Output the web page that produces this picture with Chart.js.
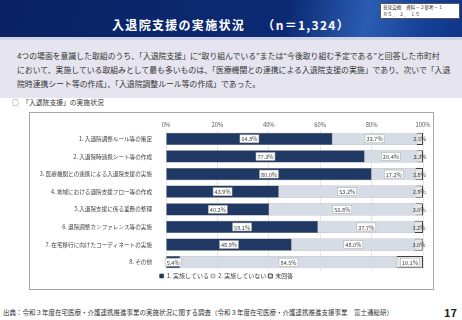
<!DOCTYPE html>
<html>
<head>
<meta charset="utf-8">
<script src="https://cdn.jsdelivr.net/npm/chart.js@4"></script>
<style>
  body { margin: 0; width: 462px; height: 320px; position: relative; overflow: hidden; background: #fff;
         font-family: "Noto Sans CJK JP", "Noto Sans", sans-serif; color: #333; }
  .head { position: absolute; left: 0; top: 0; width: 462px; height: 37px;
          background: linear-gradient(100deg, #0a2263 0%, #0c2a74 62%, #2a5db2 79%, #153f97 92%, #0f3588 100%); }
  .title { position: absolute; left: 0; width: 462px; top: 16px; text-align: center; color: #fff;
           font-size: 12px; font-weight: bold; letter-spacing: 1.3px; }
  .tag { position: absolute; left: 380px; top: 3px; width: 76px; height: 14px; background: #fff;
         border: 1px solid #555; font-size: 4.6px; line-height: 6.5px; padding-left: 2px; color: #333; }
  .strip { position: absolute; left: 0; top: 37px; width: 462px; height: 3px; background: #cfd3e6; }
  .lead { position: absolute; left: 0; top: 40px; width: 462px; height: 58px; background: #e5e4ef; }
  .lead p { margin: 0; position: absolute; left: 17px; top: 9px; font-size: 7.85px; line-height: 14px; color: #333; white-space: nowrap; }
  .sub { position: absolute; left: 12px; top: 97px; font-size: 6.8px; color: #333; }
  .frame { position: absolute; left: 29px; top: 112px; width: 403px; height: 176px; border: 1px solid #a6a6a6; }
  .frame canvas { position: absolute; left: 0; top: 0; }
  .src { position: absolute; left: 3px; top: 307px; font-size: 6.5px; color: #333; white-space: nowrap; }
  .page { position: absolute; left: 444px; top: 304px; font-size: 11px; font-weight: bold; color: #222; }
</style>
</head>
<body>
<div class="head"></div>
<div class="title">入退院支援の実施状況　 （n＝1,324）</div>
<div class="tag">意見交換　資料－３参考－１<br>Ｒ５．　３．　１５</div>
<div class="strip"></div>
<div class="lead"><p>4つの場面を意識した取組のうち、「入退院支援」に“取り組んでいる”または“今後取り組む予定である”と回答した市町村<br>において、実施している取組みとして最も多いものは、「医療機関との連携による入退院支援の実施」であり、次いで「入退<br>院時連携シート等の作成」、「入退院調整ルール等の作成」であった。</p></div>
<div class="sub">○　「入退院支援」の実施状況</div>
<div class="frame"><canvas id="chart" width="403" height="176"></canvas></div>
<div class="src">出典：令和３年度在宅医療・介護連携推進事業の実施状況に関する調査（令和３年度在宅医療・介護連携推進支援事業　富士通総研）</div>
<div class="page">17</div>

<script>
// --- DATA ---
const categories = [
  "1. 入退院調整ルール等の策定",
  "2. 入退院時連携シート等の作成",
  "3. 医療機関との連携による入退院支援の実施",
  "4. 地域における退院支援フロー等の作成",
  "5.入退院支援に係る業務の整理",
  "6. 退院調整カンファレンス等の実施",
  "7. 在宅移行に向けたコーディネートの実施",
  "8. その他"
];
const implemented = [64.8, 77.3, 80.0, 43.9, 40.2, 59.1, 48.9, 5.4];
const notImplemented = [32.7, 20.4, 17.2, 53.2, 56.8, 37.7, 48.0, 84.5];
const noAnswer = [2.5, 2.3, 2.8, 2.9, 3.0, 3.2, 3.0, 10.1];
const seriesNames = ["1. 実施している", "2. 実施していない", "未回答"];
const xTicks = [0, 20, 40, 60, 80, 100];

const FONT = "'Noto Sans CJK JP', 'Noto Sans', sans-serif";

// draws the value box in the middle of every segment
const valueLabels = {
  id: "valueLabels",
  afterDatasetsDraw(chart) {
    const ctx = chart.ctx;
    ctx.save();
    ctx.font = "5.6px " + FONT;
    ctx.textAlign = "center";
    ctx.textBaseline = "middle";
    chart.data.datasets.forEach((ds, i) => {
      const meta = chart.getDatasetMeta(i);
      meta.data.forEach((bar, j) => {
        const v = ds.data[j];
        const txt = v.toFixed(1) + "%";
        const cx = (bar.x + bar.base) / 2;
        const w = ctx.measureText(txt).width + 3;
        if (v >= 5) {
          ctx.fillStyle = "#fff";
          ctx.fillRect(cx - w / 2, bar.y - 4, w, 8);
          ctx.strokeStyle = "#a6a6a6";
          ctx.lineWidth = 0.5;
          ctx.strokeRect(cx - w / 2, bar.y - 4, w, 8);
        }
        ctx.fillStyle = "#404040";
        ctx.fillText(txt, cx, bar.y + 0.5);
      });
    });
    ctx.restore();
  }
};

new Chart(document.getElementById("chart"), {
  type: "bar",
  data: {
    labels: categories,
    datasets: [
      { label: seriesNames[0], data: implemented, backgroundColor: "#1f3864", borderColor: "#3a3a3a", borderWidth: 0.6 },
      { label: seriesNames[1], data: notImplemented, backgroundColor: "#d6dce5", borderColor: "#8c8c8c", borderWidth: 0.6 },
      { label: seriesNames[2], data: noAnswer, backgroundColor: "#e6e6e6", borderColor: "#404040", borderWidth: 1 }
    ]
  },
  options: {
    indexAxis: "y",
    responsive: false,
    animation: false,
    layout: { padding: { left: 0, right: 10, top: 4, bottom: 0 } },
    datasets: { bar: { barPercentage: 0.7, categoryPercentage: 1 } },
    scales: {
      x: {
        stacked: true,
        position: "top",
        min: 0,
        max: 100,
        afterBuildTicks: (s) => { s.ticks = xTicks.map((v) => ({ value: v })); },
        afterFit: (s) => { s.height = 13; s.paddingLeft = 0; s.paddingRight = 0; },
        ticks: { callback: (v) => v + "%", font: { size: 5.8, family: FONT }, color: "#595959", padding: 2 },
        grid: { color: "#d9d9d9", lineWidth: 0.6, drawTicks: false },
        border: { display: false }
      },
      y: {
        stacked: true,
        afterFit: (s) => { s.width = 136; },
        ticks: { font: { size: 5.6, family: FONT }, color: "#404040", padding: 6 },
        grid: { display: false },
        border: { display: false }
      }
    },
    plugins: {
      legend: {
        position: "bottom",
        labels: { font: { size: 6, family: FONT }, color: "#404040", boxWidth: 4, boxHeight: 4, padding: 2 }
      },
      tooltip: { enabled: false }
    }
  },
  plugins: [valueLabels]
});
</script>
</body>
</html>
